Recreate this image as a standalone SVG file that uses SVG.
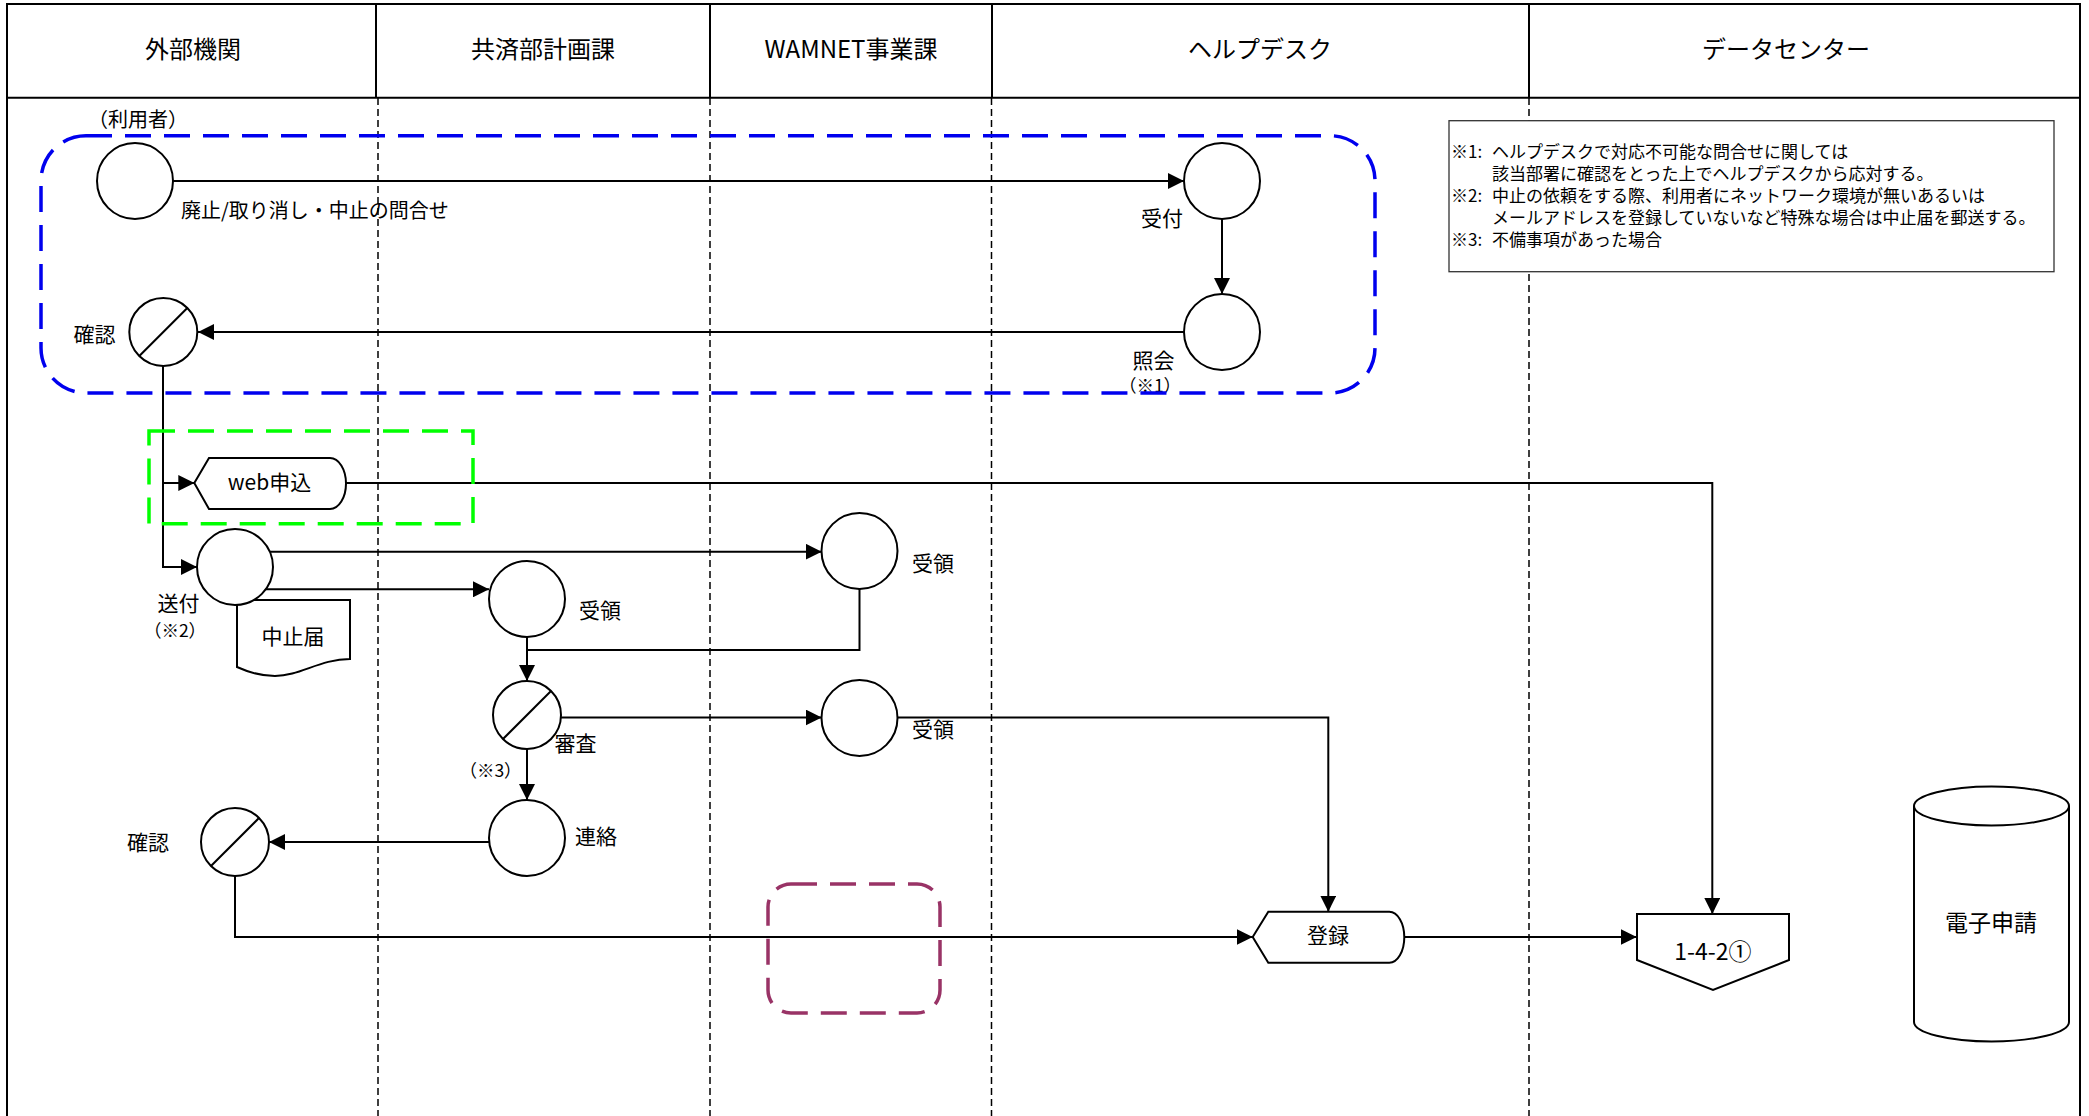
<svg xmlns="http://www.w3.org/2000/svg" width="2089" height="1116" viewBox="0 0 2089 1116">
<style>
text { font-family: "Noto Sans CJK JP", "Noto Sans", sans-serif; fill: #000; }
.hd { font-size: 24px; text-anchor: middle; }
.lb { font-size: 21px; }
.mid { text-anchor: middle; }
.sm { font-size: 17.5px; text-anchor: middle; }
.nt { font-size: 17px; }
.shape { fill: #fff; stroke: #000; stroke-width: 2; }
.conn { fill: none; stroke: #000; stroke-width: 2; }
.arr { marker-end: url(#ah); }
.frame { stroke: #000; stroke-width: 2; fill: none; }
.lane { stroke: #000; stroke-width: 1.5; stroke-dasharray: 7 4; fill: none; }
.grp { fill: none; stroke-width: 3.5; stroke-dasharray: 26 13; }
</style>
<defs>
<marker id="ah" markerUnits="userSpaceOnUse" markerWidth="16" markerHeight="16" refX="16" refY="8" orient="auto">
<path d="M0,0 L16,8 L0,16 Z" fill="#000"/>
</marker>
</defs>
<rect width="2089" height="1116" fill="#fff"/>

<g id="lanes">
<path class="frame" d="M7,1116 V4 H2080 V1116 M7,97.7 H2080 M376,4 V97.7 M710,4 V97.7 M992,4 V97.7 M1529,4 V97.7"/>
<path class="lane" d="M378,98 V1116 M710,98 V1116 M991.5,98 V1116 M1529,98 V1116"/>
<text class="hd" x="193" y="58.4">外部機関</text>
<text class="hd" x="543" y="58.4">共済部計画課</text>
<text class="hd" x="851" y="58.4">WAMNET事業課</text>
<text class="hd" x="1260" y="58.4">ヘルプデスク</text>
<text class="hd" x="1786" y="58.4">データセンター</text>
</g>

<g id="connectors">
<path class="conn arr" d="M173,181 H1184"/>
<path class="conn arr" d="M1222,219 V294"/>
<path class="conn arr" d="M1184,332 H198"/>
<path class="conn arr" d="M163,366 V567 H197"/>
<path class="conn arr" d="M163,483 H194.3"/>
<path class="conn arr" d="M346,483 H1712.3 V914"/>
<path class="conn arr" d="M269.8,551.7 H821.7"/>
<path class="conn arr" d="M266,589.3 H489"/>
<path class="conn" d="M859.5,589 V650 H527"/>
<path class="conn arr" d="M527,637 V681"/>
<path class="conn arr" d="M561,717.5 H821.7"/>
<path class="conn arr" d="M527,749 V800"/>
<path class="conn arr" d="M897.5,717.5 H1328.3 V911.7"/>
<path class="conn arr" d="M489,842 H269"/>
<path class="conn arr" d="M235,876 V937 H1252.7"/>
<path class="conn arr" d="M1404,937 H1636.7"/>
</g>

<g id="n-riyosha">
<circle class="shape" cx="135" cy="181" r="38"/>
<text class="lb mid" x="138" y="127" style="font-size:20px">（利用者）</text>
<text class="lb" x="181" y="218" style="font-size:20px">廃止/取り消し・中止の問合せ</text>
</g>
<g id="n-uketsuke">
<circle class="shape" cx="1222" cy="181" r="38"/>
<text class="lb mid" x="1162" y="226">受付</text>
</g>
<g id="n-shokai">
<circle class="shape" cx="1222" cy="332" r="38"/>
<text class="lb mid" x="1153.5" y="368">照会</text>
<text class="sm" x="1150" y="392">（※1）</text>
</g>
<g id="n-kakunin1">
<circle class="shape" cx="163.3" cy="332" r="34"/>
<path class="conn" d="M139.3,356 L187.3,308"/>
<text class="lb mid" x="94.5" y="341.5">確認</text>
</g>
<g id="n-web">
<path class="shape" d="M194.3,483 L209,458 H330 A16,25.5 0 0 1 330,509 H209 Z"/>
<text class="lb mid" x="269.5" y="490">web申込</text>
</g>
<g id="n-chushitodoke">
<path class="shape" d="M237,600 H350 V659 C320,659 300,676 275,676 C260,676 248,672 237,667 Z"/>
<text class="lb mid" x="293" y="643.5">中止届</text>
</g>
<g id="n-sofu">
<circle class="shape" cx="235" cy="567" r="38"/>
<text class="lb mid" x="178.5" y="611">送付</text>
<text class="sm" x="175" y="637">（※2）</text>
</g>
<g id="n-juryo-wam1">
<circle class="shape" cx="859.5" cy="551" r="38"/>
<text class="lb mid" x="933" y="571">受領</text>
</g>
<g id="n-juryo-kyosai">
<circle class="shape" cx="527" cy="599" r="38"/>
<text class="lb mid" x="600" y="617.5">受領</text>
</g>
<g id="n-shinsa">
<circle class="shape" cx="527" cy="715" r="34"/>
<path class="conn" d="M503,739 L551,691"/>
<text class="lb mid" x="575.5" y="751">審査</text>
<text class="sm" x="490.5" y="777">（※3）</text>
</g>
<g id="n-juryo-wam2">
<circle class="shape" cx="859.5" cy="718" r="38"/>
<text class="lb mid" x="933" y="736.5">受領</text>
</g>
<g id="n-renraku">
<circle class="shape" cx="527" cy="838" r="38"/>
<text class="lb mid" x="596" y="844">連絡</text>
</g>
<g id="n-kakunin2">
<circle class="shape" cx="235" cy="842" r="34"/>
<path class="conn" d="M211,866 L259,818"/>
<text class="lb mid" x="148" y="849.5">確認</text>
</g>
<g id="n-toroku">
<path class="shape" d="M1252.7,937 L1268.3,911.7 H1389.3 A15,25.5 0 0 1 1389.3,962.7 H1268.3 Z"/>
<text class="lb mid" x="1328" y="943">登録</text>
</g>
<g id="n-offpage">
<path class="shape" d="M1637,914 H1789 V960 L1713,990 L1637,960 Z"/>
<text class="mid" x="1713" y="960" style="font-size:23px">1-4-2①</text>
</g>
<g id="n-denshi">
<path class="shape" d="M1914,806 A77.5,19.5 0 0 1 2069,806 V1022 A77.5,19.5 0 0 1 1914,1022 Z"/>
<path class="conn" d="M1914,806 A77.5,19.5 0 0 0 2069,806"/>
<text class="mid" x="1991" y="930.5" style="font-size:23px">電子申請</text>
</g>

<g id="g-blue">
<rect class="grp" x="41" y="135.7" width="1334" height="257.3" rx="45" ry="45" stroke="#0000ee"/>
</g>
<g id="g-green">
<rect class="grp" x="149" y="431" width="324" height="92.7" stroke="#00ff00"/>
</g>
<g id="g-purple">
<rect class="grp" x="768" y="884" width="172" height="129" rx="23" ry="23" stroke="#993366"/>
</g>

<g id="notes">
<rect x="1449" y="120.7" width="605" height="151" fill="#fff" stroke="#333" stroke-width="1.3"/>
<text class="nt" y="157.5"><tspan x="1451">※1:</tspan><tspan x="1492">ヘルプデスクで対応不可能な問合せに関しては</tspan></text>
<text class="nt" x="1492" y="179.5">該当部署に確認をとった上でヘルプデスクから応対する。</text>
<text class="nt" y="201.5"><tspan x="1451">※2:</tspan><tspan x="1492">中止の依頼をする際、利用者にネットワーク環境が無いあるいは</tspan></text>
<text class="nt" x="1492" y="223.5">メールアドレスを登録していないなど特殊な場合は中止届を郵送する。</text>
<text class="nt" y="245.5"><tspan x="1451">※3:</tspan><tspan x="1492">不備事項があった場合</tspan></text>
</g>
</svg>
